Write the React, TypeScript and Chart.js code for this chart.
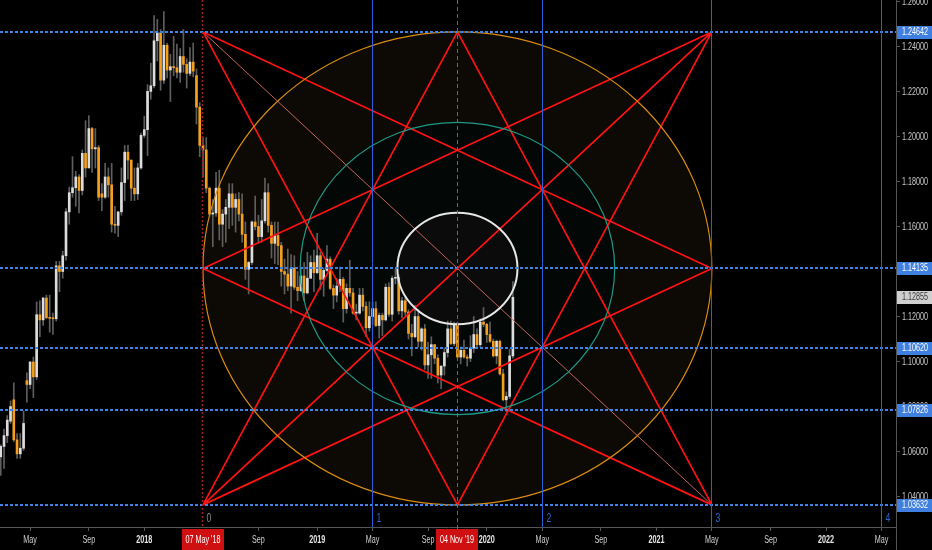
import React, { useEffect, useRef } from 'react';
import { Chart, registerables } from 'chart.js';

Chart.register(...registerables);

// ---- data ----
const firstWeek = '2017-02-27';
const anchorWeek = '2018-05-07';

const opens = [
  1.0577, 1.0623, 1.0671, 1.0735, 1.0830, 1.0652, 1.0590, 1.0615, 1.0915, 1.0898,
  1.0998, 1.0932, 1.1208, 1.1185, 1.1282, 1.1195, 1.1192, 1.1190, 1.1425, 1.1400,
  1.1470, 1.1665, 1.1750, 1.1772, 1.1820, 1.1760, 1.1925, 1.1860, 1.2035, 1.1945,
  1.1950, 1.1745, 1.1730, 1.1820, 1.1785, 1.1610, 1.1605, 1.1665, 1.1795, 1.1930,
  1.1895, 1.1770, 1.1745, 1.1860, 1.2005, 1.2030, 1.2200, 1.2225, 1.2425, 1.2460,
  1.2250, 1.2405, 1.2295, 1.2310, 1.2305, 1.2285, 1.2355, 1.2320, 1.2280, 1.2330,
  1.2270, 1.2130, 1.1960, 1.1940, 1.1770, 1.1655, 1.1660, 1.1770, 1.1610, 1.1655,
  1.1685, 1.1745, 1.1685, 1.1720, 1.1655, 1.1565, 1.1410, 1.1440, 1.1620, 1.1600,
  1.1555, 1.1625, 1.1750, 1.1605, 1.1525, 1.1560, 1.1515, 1.1400, 1.1388, 1.1335,
  1.1415, 1.1330, 1.1315, 1.1380, 1.1305, 1.1370, 1.1440, 1.1395, 1.1470, 1.1365,
  1.1405, 1.1455, 1.1325, 1.1295, 1.1335, 1.1365, 1.1235, 1.1325, 1.1305, 1.1215,
  1.1215, 1.1295, 1.1245, 1.1150, 1.1200, 1.1235, 1.1160, 1.1205, 1.1185, 1.1330,
  1.1210, 1.1370, 1.1373, 1.1225, 1.1270, 1.1220, 1.1125, 1.1110, 1.1200, 1.1090,
  1.1145, 1.0985, 1.1030, 1.1075, 1.1015, 1.0940, 1.0980, 1.1040, 1.1145, 1.1080,
  1.1165, 1.1020, 1.1050, 1.1020, 1.1015, 1.1060, 1.1120, 1.1075, 1.1175, 1.1165,
  1.1120, 1.1090, 1.1025, 1.1090, 1.0945, 1.0830, 1.0845, 1.1025,
];
const highs = [
  1.0630, 1.0700, 1.0760, 1.0825, 1.0905, 1.0680, 1.0680, 1.0780, 1.0950, 1.1000,
  1.1020, 1.1265, 1.1270, 1.1285, 1.1295, 1.1295, 1.1215, 1.1445, 1.1445, 1.1490,
  1.1680, 1.1775, 1.1910, 1.1845, 1.1830, 1.1940, 1.2070, 1.2092, 1.2040, 1.2035,
  1.1960, 1.1790, 1.1880, 1.1860, 1.1880, 1.1690, 1.1665, 1.1860, 1.1960, 1.1960,
  1.1895, 1.1860, 1.1880, 1.2015, 1.2090, 1.2230, 1.2325, 1.2537, 1.2520, 1.2475,
  1.2555, 1.2415, 1.2365, 1.2445, 1.2410, 1.2390, 1.2475, 1.2345, 1.2395, 1.2415,
  1.2300, 1.2150, 1.1995, 1.1995, 1.1775, 1.1720, 1.1840, 1.1850, 1.1675, 1.1720,
  1.1790, 1.1790, 1.1745, 1.1750, 1.1745, 1.1620, 1.1445, 1.1625, 1.1735, 1.1650,
  1.1720, 1.1815, 1.1790, 1.1620, 1.1620, 1.1620, 1.1530, 1.1455, 1.1500, 1.1475,
  1.1470, 1.1400, 1.1420, 1.1440, 1.1485, 1.1470, 1.1495, 1.1570, 1.1485, 1.1415,
  1.1515, 1.1465, 1.1340, 1.1370, 1.1420, 1.1375, 1.1345, 1.1450, 1.1325, 1.1255,
  1.1325, 1.1325, 1.1265, 1.1265, 1.1265, 1.1265, 1.1215, 1.1215, 1.1345, 1.1350,
  1.1380, 1.1410, 1.1385, 1.1285, 1.1285, 1.1230, 1.1165, 1.1250, 1.1230, 1.1150,
  1.1165, 1.1085, 1.1110, 1.1075, 1.1030, 1.0980, 1.1060, 1.1180, 1.1180, 1.1175,
  1.1175, 1.1065, 1.1095, 1.1030, 1.1115, 1.1200, 1.1145, 1.1190, 1.1240, 1.1170,
  1.1175, 1.1100, 1.1095, 1.1095, 1.0965, 1.0865, 1.1055, 1.1355,
];
const lows = [
  1.0494, 1.0525, 1.0640, 1.0725, 1.0645, 1.0570, 1.0570, 1.0605, 1.0820, 1.0880,
  1.0840, 1.0920, 1.1110, 1.1160, 1.1190, 1.1130, 1.1120, 1.1180, 1.1310, 1.1370,
  1.1450, 1.1610, 1.1730, 1.1690, 1.1660, 1.1740, 1.1820, 1.1860, 1.1840, 1.1860,
  1.1715, 1.1670, 1.1725, 1.1730, 1.1575, 1.1570, 1.1555, 1.1650, 1.1715, 1.1810,
  1.1715, 1.1715, 1.1720, 1.1855, 1.1995, 1.1915, 1.2165, 1.2215, 1.2335, 1.2205,
  1.2235, 1.2260, 1.2155, 1.2270, 1.2260, 1.2240, 1.2285, 1.2215, 1.2270, 1.2265,
  1.2055, 1.1910, 1.1820, 1.1750, 1.1645, 1.1510, 1.1645, 1.1540, 1.1510, 1.1530,
  1.1590, 1.1605, 1.1575, 1.1625, 1.1530, 1.1365, 1.1300, 1.1430, 1.1585, 1.1525,
  1.1530, 1.1615, 1.1575, 1.1460, 1.1435, 1.1430, 1.1335, 1.1300, 1.1315, 1.1215,
  1.1320, 1.1270, 1.1310, 1.1270, 1.1300, 1.1370, 1.1310, 1.1390, 1.1320, 1.1290,
  1.1400, 1.1320, 1.1235, 1.1265, 1.1310, 1.1175, 1.1215, 1.1290, 1.1210, 1.1185,
  1.1210, 1.1225, 1.1110, 1.1135, 1.1165, 1.1155, 1.1105, 1.1115, 1.1180, 1.1200,
  1.1180, 1.1345, 1.1210, 1.1195, 1.1205, 1.1100, 1.1025, 1.1105, 1.1065, 1.1050,
  1.0965, 1.0925, 1.0925, 1.0990, 1.0905, 1.0880, 1.0940, 1.1020, 1.1075, 1.1070,
  1.1015, 1.0990, 1.1015, 1.0980, 1.1000, 1.1040, 1.1065, 1.1065, 1.1155, 1.1085,
  1.1085, 1.1020, 1.0990, 1.0940, 1.0825, 1.0778, 1.0835, 1.1015,
];
const closes = [
  1.0623, 1.0671, 1.0740, 1.0800, 1.0652, 1.0590, 1.0615, 1.0725, 1.0898, 1.0998,
  1.0932, 1.1208, 1.1185, 1.1282, 1.1195, 1.1192, 1.1190, 1.1425, 1.1400, 1.1470,
  1.1665, 1.1750, 1.1772, 1.1820, 1.1760, 1.1925, 1.1860, 1.2035, 1.1945, 1.1950,
  1.1730, 1.1730, 1.1820, 1.1785, 1.1610, 1.1605, 1.1665, 1.1795, 1.1930, 1.1895,
  1.1770, 1.1745, 1.1860, 1.2005, 1.2030, 1.2200, 1.2225, 1.2425, 1.2460, 1.2250,
  1.2405, 1.2295, 1.2310, 1.2305, 1.2285, 1.2355, 1.2320, 1.2280, 1.2330, 1.2290,
  1.2130, 1.1960, 1.1940, 1.1770, 1.1655, 1.1660, 1.1770, 1.1610, 1.1655, 1.1685,
  1.1745, 1.1685, 1.1720, 1.1655, 1.1565, 1.1410, 1.1440, 1.1620, 1.1600, 1.1555,
  1.1625, 1.1750, 1.1605, 1.1525, 1.1560, 1.1515, 1.1400, 1.1388, 1.1335, 1.1415,
  1.1330, 1.1315, 1.1380, 1.1305, 1.1370, 1.1440, 1.1395, 1.1470, 1.1365, 1.1405,
  1.1455, 1.1325, 1.1295, 1.1335, 1.1365, 1.1235, 1.1325, 1.1305, 1.1215, 1.1215,
  1.1295, 1.1245, 1.1150, 1.1200, 1.1235, 1.1160, 1.1205, 1.1185, 1.1330, 1.1210,
  1.1370, 1.1373, 1.1225, 1.1270, 1.1220, 1.1125, 1.1110, 1.1200, 1.1090, 1.1145,
  1.0985, 1.1030, 1.1075, 1.1015, 1.0940, 1.0980, 1.1040, 1.1145, 1.1080, 1.1165,
  1.1020, 1.1050, 1.1020, 1.1015, 1.1060, 1.1120, 1.1075, 1.1175, 1.1165, 1.1120,
  1.1090, 1.1025, 1.1090, 1.0945, 1.0830, 1.0845, 1.1025, 1.12855,
];

const xTickDates = [
  '2017-05-01', '2017-09-04', '2018-01-01', '2018-09-03', '2019-01-07',
  '2019-05-06', '2019-09-02', '2020-01-06', '2020-05-04', '2020-09-07',
  '2021-01-04', '2021-05-03', '2021-09-06', '2022-01-03', '2022-05-02',
];
const xTickLabels = [
  'May', 'Sep', '2018', 'Sep', '2019', 'May', 'Sep', '2020', 'May', 'Sep',
  '2021', 'May', 'Sep', '2022', 'May',
];
const yTicks = [1.04, 1.06, 1.08, 1.10, 1.12, 1.14, 1.16, 1.18, 1.20, 1.22, 1.24, 1.26];

const levelPrices = [1.24642, 1.14135, 1.10620, 1.07826, 1.03632];
const lastPrice = 1.12855;

const starStart = '2018-05-07';
const starCenter = '2019-11-04';
const starEnd = '2021-05-03';
const starTop = 1.24642;
const starMid = 1.14135;
const starBottom = 1.03632;
const circleRatios = [1, 0.618, 0.236];

const cycleDates = ['2018-05-07', '2019-05-06', '2020-05-04', '2021-05-03', '2022-05-02'];
const cycleLabels = ['0', '1', '2', '3', '4'];
const markerDates = ['2018-05-07', '2019-11-04'];
const markerLabels = ["07 May '18", "04 Nov '19"];

// ---- helpers ----
const WEEK = 7 * 86400000;
const weekOf = (d: string) => (Date.parse(d) - Date.parse(anchorWeek)) / WEEK;
const firstIdx = weekOf(firstWeek);
const xMin = -62.23;
const xMax = 212.45;
const yMin = 1.0265;
const yMax = 1.2606;

const FONT = "'Liberation Sans', Arial, sans-serif";
const SX = 0.72;
const UP = '#dcdcdc';
const DOWN = '#f5a01d';
const WICK = '#5e5e5e';
const RED = '#ff1212';
const BLUE_LEVEL = '#3f83e6';
const BLUE_CYCLE = '#2a5fd6';

function narrowText(ctx: CanvasRenderingContext2D, text: string, x: number, y: number, align: CanvasTextAlign, font: string, color: string) {
  ctx.save();
  ctx.font = font;
  ctx.fillStyle = color;
  ctx.textAlign = align;
  ctx.textBaseline = 'middle';
  ctx.translate(x, y);
  ctx.scale(SX, 1);
  ctx.fillText(text, 0, 0);
  ctx.restore();
}

export default function App() {
  const ref = useRef<HTMLCanvasElement | null>(null);

  useEffect(() => {
    document.body.style.margin = '0';
    document.body.style.background = '#000';
    const canvas = ref.current;
    if (!canvas) return;

    const xs = opens.map((_, i) => firstIdx + i);
    const s = weekOf(starStart), c = weekOf(starCenter), e = weekOf(starEnd);
    const P: Record<string, { x: number; y: number }> = {
      TL: { x: s, y: starTop }, TR: { x: e, y: starTop },
      BL: { x: s, y: starBottom }, BR: { x: e, y: starBottom },
      MT: { x: c, y: starTop }, MB: { x: c, y: starBottom },
      ML: { x: s, y: starMid }, MR: { x: e, y: starMid },
    };
    const starSegments = [
      ['TL', 'MR'], ['TL', 'MB'], ['TR', 'ML'], ['TR', 'MB'],
      ['BL', 'MT'], ['BL', 'MR'], ['BR', 'MT'], ['BR', 'ML'], ['BL', 'TR'],
    ];
    const starData: any[] = [];
    starSegments.forEach(([a, b]) => {
      starData.push(P[a], P[b], { x: P[b].x, y: null });
    });

    const overlay = {
      id: 'overlay',
      beforeDatasetsDraw(chart: any) {
        const { ctx, chartArea, scales } = chart;
        const X = (v: number) => scales.x.getPixelForValue(v);
        const Y = (v: number) => scales.y.getPixelForValue(v);
        const cx = X(c), cy = Y(starMid);
        const rx = Math.abs(X(e) - cx), ry = Math.abs(Y(starTop) - cy);
        const fills = ['#0d0905', '#030807', '#0b0b0b'];
        ctx.save();
        ctx.beginPath();
        ctx.rect(chartArea.left, chartArea.top, chartArea.right - chartArea.left, chartArea.bottom - chartArea.top);
        ctx.clip();
        circleRatios.forEach((r, i) => {
          ctx.beginPath();
          ctx.ellipse(cx, cy, rx * r, ry * r, 0, 0, Math.PI * 2);
          ctx.fillStyle = fills[i];
          ctx.fill();
        });
        ctx.restore();
      },
      afterDatasetsDraw(chart: any) {
        const { ctx, chartArea, scales } = chart;
        const X = (v: number) => scales.x.getPixelForValue(v);
        const Y = (v: number) => scales.y.getPixelForValue(v);
        const cx = X(c), cy = Y(starMid);
        const rx = Math.abs(X(e) - cx), ry = Math.abs(Y(starTop) - cy);
        ctx.save();
        ctx.beginPath();
        ctx.rect(chartArea.left, chartArea.top, chartArea.right - chartArea.left, chartArea.bottom - chartArea.top);
        ctx.clip();
        const strokes = ['#d98c0d', '#1f9986', '#e6e6e6'];
        const widths = [1.2, 1.2, 2];
        circleRatios.forEach((r, i) => {
          ctx.beginPath();
          ctx.ellipse(cx, cy, rx * r, ry * r, 0, 0, Math.PI * 2);
          ctx.strokeStyle = strokes[i];
          ctx.lineWidth = widths[i];
          ctx.stroke();
        });
        // horizontal levels
        ctx.setLineDash([3, 2]);
        ctx.lineWidth = 2;
        ctx.strokeStyle = BLUE_LEVEL;
        levelPrices.forEach((p) => {
          const y = Math.round(Y(p));
          ctx.beginPath();
          ctx.moveTo(chartArea.left, y);
          ctx.lineTo(chartArea.right, y);
          ctx.stroke();
        });
        ctx.restore();

        // vertical cycle lines
        ctx.save();
        cycleDates.forEach((d, i) => {
          const x = Math.floor(X(weekOf(d))) + 0.5;
          ctx.beginPath();
          if (i === 0) {
            ctx.setLineDash([2, 2]);
            ctx.strokeStyle = '#9a2222';
            ctx.lineWidth = 1.5;
          } else {
            ctx.setLineDash([]);
            ctx.strokeStyle = BLUE_CYCLE;
            ctx.lineWidth = 1;
          }
          ctx.moveTo(x, chartArea.top);
          ctx.lineTo(x, chartArea.bottom);
          ctx.stroke();
          ctx.setLineDash([]);
          narrowText(ctx, cycleLabels[i], x + 4, chartArea.bottom - 8, 'left', `12px ${FONT}`, i === 0 ? '#8a8a8a' : '#2d66d0');
        });
        // center dashed line
        const mx = Math.floor(X(c)) + 0.5;
        ctx.setLineDash([4, 3]);
        ctx.strokeStyle = '#ff2a2a';
        ctx.lineWidth = 1;
        ctx.beginPath();
        ctx.moveTo(mx, chartArea.top);
        ctx.lineTo(mx, chartArea.bottom + 3);
        ctx.stroke();
        ctx.restore();
      },
      afterDraw(chart: any) {
        const { ctx, chartArea, scales, width, height } = chart;
        const X = (v: number) => scales.x.getPixelForValue(v);
        const Y = (v: number) => scales.y.getPixelForValue(v);
        ctx.save();
        // extend axis line
        ctx.strokeStyle = '#555';
        ctx.lineWidth = 1;
        ctx.beginPath();
        ctx.moveTo(Math.round(chartArea.right) + 0.5, chartArea.bottom);
        ctx.lineTo(Math.round(chartArea.right) + 0.5, height);
        ctx.stroke();
        // y tick labels from the axis ticks
        scales.y.ticks.forEach((t: any) => {
          narrowText(ctx, Number(t.value).toFixed(5), chartArea.right + 6, Y(t.value) + 0.5, 'left', `10px ${FONT}`, '#c8c8c8');
        });
        // x tick labels from the axis ticks
        scales.x.ticks.forEach((t: any, i: number) => {
          const lab = xTickLabels[i];
          const bold = /^\d{4}$/.test(lab);
          narrowText(ctx, lab, X(t.value), chartArea.bottom + 13, 'center', `${bold ? 'bold ' : ''}10px ${FONT}`, bold ? '#e6e6e6' : '#cfcfcf');
        });
        // price boxes
        const drawBox = (p: number, bg: string, fg: string) => {
          const y = Math.round(Y(p));
          ctx.fillStyle = bg;
          ctx.fillRect(chartArea.right + 1, y - 6, width - chartArea.right - 1, 13);
          narrowText(ctx, p.toFixed(5), chartArea.right + 6, y + 0.5, 'left', `10px ${FONT}`, fg);
        };
        drawBox(lastPrice, '#cfcfcf', '#3a3a3a');
        levelPrices.forEach((p) => drawBox(p, '#3f7fe0', '#ffffff'));
        // date markers
        markerDates.forEach((d, i) => {
          const x = Math.round(X(weekOf(d)));
          ctx.fillStyle = '#d01010';
          ctx.fillRect(x - 21, chartArea.bottom + 2, 42, height - chartArea.bottom - 2);
          narrowText(ctx, markerLabels[i], x, chartArea.bottom + 13, 'center', `10px ${FONT}`, '#ffffff');
        });
        ctx.restore();
      },
    };

    const chart = new Chart(canvas, {
      type: 'bar',
      data: {
        datasets: [
          {
            type: 'bar',
            label: 'wick',
            data: xs.map((x, i) => ({ x, y: [lows[i], highs[i]] })) as any,
            backgroundColor: WICK,
            barThickness: 1,
            grouped: false,
            order: 3,
          } as any,
          {
            type: 'bar',
            label: 'body',
            data: xs.map((x, i) => ({ x, y: [opens[i], closes[i]] })) as any,
            backgroundColor: closes.map((cl, i) => (cl >= opens[i] ? UP : DOWN)),
            barThickness: 2,
            minBarLength: 1,
            grouped: false,
            order: 2,
          } as any,
          {
            type: 'line',
            label: 'star',
            data: starData,
            borderColor: RED,
            borderWidth: 1.7,
            pointRadius: 0,
            spanGaps: false,
            order: 1,
          } as any,
          {
            type: 'line',
            label: 'diag',
            data: [P.TL, P.BR],
            borderColor: 'rgba(215,110,100,0.9)',
            borderWidth: 1,
            pointRadius: 0,
            order: 1,
          } as any,
        ],
      },
      options: {
        animation: false,
        responsive: false,
        maintainAspectRatio: false,
        layout: { padding: 0 },
        plugins: { legend: { display: false }, tooltip: { enabled: false } },
        scales: {
          x: {
            type: 'linear',
            min: xMin,
            max: xMax,
            offset: false,
            grid: { display: true, drawOnChartArea: false, tickLength: 4, color: '#555', offset: false },
            border: { display: true, color: '#555' },
            afterBuildTicks: (sc: any) => {
              sc.ticks = xTickDates.map((d) => ({ value: weekOf(d) }));
            },
            afterFit: (sc: any) => {
              sc.height = 23;
              sc.paddingLeft = 0;
              sc.paddingRight = 0;
            },
            ticks: { display: false, autoSkip: false, maxRotation: 0 },
          },
          y: {
            type: 'linear',
            position: 'right',
            min: yMin,
            max: yMax,
            grid: { display: true, drawOnChartArea: false, tickLength: 4, color: '#555' },
            border: { display: true, color: '#555' },
            afterBuildTicks: (sc: any) => {
              sc.ticks = yTicks.map((v) => ({ value: v }));
            },
            afterFit: (sc: any) => {
              sc.width = 36;
              sc.paddingTop = 0;
              sc.paddingBottom = 0;
            },
            ticks: { display: false, autoSkip: false },
          },
        },
      } as any,
      plugins: [overlay],
    });

    return () => chart.destroy();
  }, []);

  return (
    <div style={{ position: 'fixed', left: 0, top: 0, width: 932, height: 550, background: '#000' }}>
      <canvas ref={ref} width={932} height={550} style={{ width: 932, height: 550, display: 'block' }} />
    </div>
  );
}
